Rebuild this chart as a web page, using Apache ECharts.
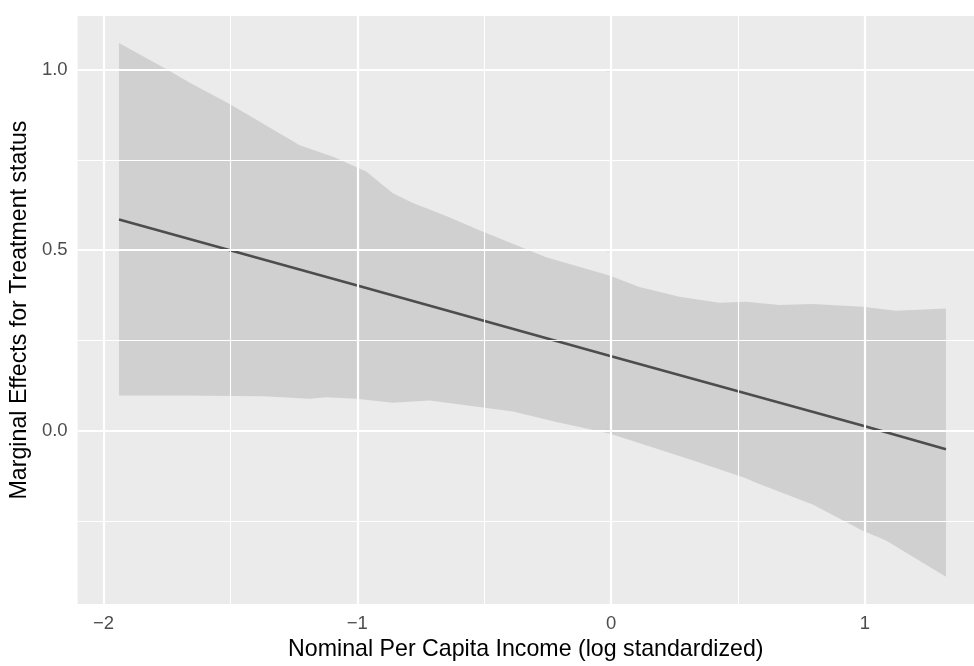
<!DOCTYPE html>
<html>
<head>
<meta charset="utf-8">
<script src="https://cdn.jsdelivr.net/npm/echarts@6/dist/echarts.min.js"></script>
<style>
  html, body { margin: 0; padding: 0; background: #ffffff; }
  #chart { width: 974px; height: 666px; }
</style>
</head>
<body>
<div id="chart"></div>
<script>
// ---- data ----
const xTicks = [-2, -1, 0, 1];
const xMinorTicks = [-1.5, -0.5, 0.5];
const yTicks = [0, 0.5, 1.0];
const yMinorTicks = [-0.25, 0.25, 0.75];

const xRange = [-2.102, 1.4295];
const yRange = [-0.481, 1.149];

// marginal effect estimate (straight line)
const lineX = [-1.939, -1, 0, 1, 1.319];
const lineY = [0.585, 0.402, 0.206, 0.012, -0.052];

// confidence band, upper edge
const upperX = [-1.939, -1.746, -1.660, -1.503, -1.227, -1.096, -0.965, -0.860, -0.781, -0.650,
                -0.519, -0.256, -0.007, 0.111, 0.269, 0.426, 0.531, 0.663, 0.794, 0.991, 1.122, 1.319];
const upperY = [1.074, 0.999, 0.964, 0.905, 0.791, 0.759, 0.718, 0.658, 0.631, 0.595,
                0.555, 0.480, 0.430, 0.398, 0.371, 0.354, 0.357, 0.348, 0.351, 0.343, 0.332, 0.338];

// confidence band, lower edge
const lowerX = [-1.939, -1.700, -1.372, -1.188, -1.122, -1.004, -0.860, -0.715, -0.519, -0.387,
                -0.216, -0.007, 0.217, 0.335, 0.531, 0.571, 0.794, 0.991, 1.083, 1.319];
const lowerY = [0.097, 0.097, 0.095, 0.088, 0.092, 0.088, 0.077, 0.083, 0.065, 0.053,
                0.024, -0.008, -0.059, -0.086, -0.132, -0.145, -0.205, -0.278, -0.305, -0.405];

const xTitle = 'Nominal Per Capita Income (log standardized)';
const yTitle = 'Marginal Effects for Treatment status';

// ---- chart ----
const FONT = '"Liberation Sans", Arial, Helvetica, sans-serif';
const chart = echarts.init(document.getElementById('chart'), null, { renderer: 'canvas' });

const gridLines = [];
xTicks.forEach(v => gridLines.push({ xAxis: v, lineStyle: { color: '#ffffff', width: 2.2, type: 'solid' } }));
xMinorTicks.forEach(v => gridLines.push({ xAxis: v, lineStyle: { color: '#ffffff', width: 1.1, type: 'solid' } }));
yTicks.forEach(v => gridLines.push({ yAxis: v, lineStyle: { color: '#ffffff', width: 2.2, type: 'solid' } }));
yMinorTicks.forEach(v => gridLines.push({ yAxis: v, lineStyle: { color: '#ffffff', width: 1.1, type: 'solid' } }));

const fmtMinus = v => String(v).replace('-', '\u2212');

const option = {
  backgroundColor: '#ffffff',
  animation: false,
  textStyle: { fontFamily: FONT },
  grid: {
    left: 77, right: 0, top: 16, bottom: 55,
    show: true, backgroundColor: '#EBEBEB', borderWidth: 0
  },
  xAxis: {
    type: 'value',
    min: xRange[0], max: xRange[1],
    axisLine: { show: false },
    splitLine: { show: false },
    axisTick: { show: true, customValues: xTicks, length: 5, lineStyle: { color: '#333333', width: 1.1 } },
    axisLabel: {
      customValues: xTicks, margin: 10,
      color: '#4D4D4D', fontSize: 18.5, fontFamily: FONT,
      formatter: v => fmtMinus(v)
    },
    name: xTitle, nameLocation: 'middle', nameGap: 32,
    nameTextStyle: { color: '#000000', fontSize: 23.2, fontFamily: FONT }
  },
  yAxis: {
    type: 'value',
    min: yRange[0], max: yRange[1],
    axisLine: { show: false },
    splitLine: { show: false },
    axisTick: { show: true, customValues: yTicks, length: 5, lineStyle: { color: '#333333', width: 1.1 } },
    axisLabel: {
      customValues: yTicks, margin: 10,
      color: '#4D4D4D', fontSize: 18.5, fontFamily: FONT,
      formatter: v => fmtMinus(Number(v).toFixed(1))
    },
    name: yTitle, nameLocation: 'middle', nameGap: 40,
    nameTextStyle: { color: '#000000', fontSize: 23.2, fontFamily: FONT }
  },
  series: [
    {
      name: 'grid', type: 'line', z: 1, silent: true,
      data: [],
      symbol: 'none',
      markLine: {
        silent: true, symbol: ['none', 'none'], animation: false,
        label: { show: false },
        emphasis: { disabled: true },
        data: gridLines
      }
    },
    {
      name: 'band', type: 'custom', z: 2, silent: true,
      data: [[upperX[0], upperY[0]]],
      renderItem: function (params, api) {
        if (params.dataIndex !== 0) return null;
        const pts = [];
        for (let i = 0; i < upperX.length; i++) pts.push(api.coord([upperX[i], upperY[i]]));
        for (let i = lowerX.length - 1; i >= 0; i--) pts.push(api.coord([lowerX[i], lowerY[i]]));
        return {
          type: 'polygon',
          shape: { points: pts },
          style: { fill: 'rgba(153,153,153,0.32)', stroke: null }
        };
      }
    },
    {
      name: 'effect', type: 'line', z: 3, silent: true,
      data: lineX.map((x, i) => [x, lineY[i]]),
      symbol: 'none',
      lineStyle: { color: '#4D4D4D', width: 2.6 }
    }
  ]
};
chart.setOption(option);
</script>
</body>
</html>
